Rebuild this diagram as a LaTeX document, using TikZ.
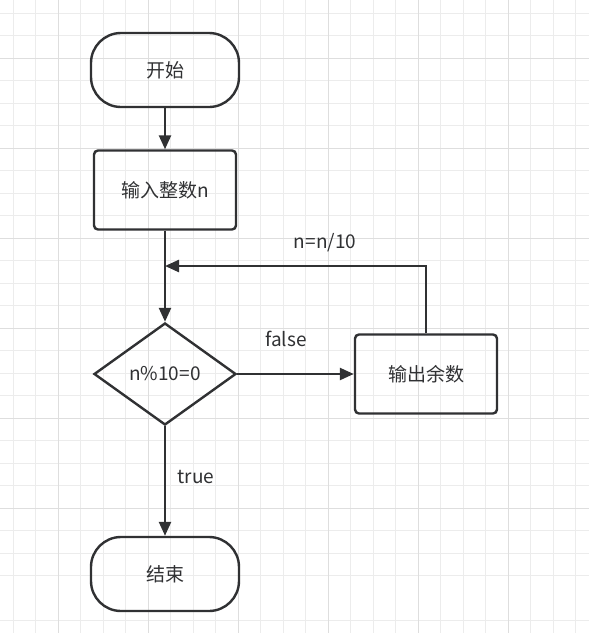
\documentclass[tikz,border=0pt]{standalone}
\usepackage{fontspec}
\setmainfont{Noto Sans CJK SC}
\usetikzlibrary{arrows.meta, shapes.geometric}
\definecolor{ink}{RGB}{48,49,51}
\definecolor{gridminor}{RGB}{236,236,236}
\definecolor{gridmajor}{RGB}{222,222,222}
\tikzset{
  terminal/.style={draw=ink, line width=2.4pt, rounded corners=30pt, minimum width=148pt, minimum height=74pt},
  process/.style={draw=ink, line width=2.4pt, rounded corners=4pt, minimum width=142pt, minimum height=79pt},
  decision/.style={draw=ink, line width=2.4pt, diamond, aspect=1.4, minimum width=142pt, minimum height=102pt},
  flow/.style={draw=ink, line width=2.4pt, -{Triangle[length=14pt,width=12pt]}},
  lbl/.style={text=ink}
}

\begin{document}
\begin{tikzpicture}[x=1pt, y=-1pt, font=\fontsize{19}{23}\selectfont]
  \useasboundingbox (0,0) rectangle (589,633);
  % grid paper
  \fill[white] (0,0) rectangle (589,633);
  \foreach \p in {13,35.5,...,589} {
    \draw[gridminor, line width=1pt] (\p,0) -- (\p,633);
    \draw[gridminor, line width=1pt] (0,\p) -- (589,\p);
  }
  \draw[gridminor, line width=1pt] (0,620.5) -- (589,620.5);
  \foreach \p in {58,148,...,589} {
    \draw[gridmajor, line width=1pt] (\p,0) -- (\p,633);
    \draw[gridmajor, line width=1pt] (0,\p) -- (589,\p);
  }

  % flow chart
  \node[terminal, lbl] (start) at (165,70) {开始};
  \node[process, lbl] (input) at (165,190) {输入整数n};
  \node[decision, lbl] (test) at (165,374) {n\%10=0};
  \node[process, lbl] (digit) at (426,374) {输出余数};
  \node[terminal, lbl] (stop) at (165,574) {结束};
  \coordinate (back) at (165,266);

  \draw[flow] (start) -- (input);
  \draw[flow] (input) -- (test);
  \draw[flow] (test) -- (digit);
  \draw[flow] (test) -- (stop);
  \draw[flow] (digit.north) |- (back);

  \node[lbl] (divide) at (325,243) {n=n/10};
  \node[lbl] (no) at (286,339) {false};
  \node[lbl] (yes) at (196,477) {true};
\end{tikzpicture}
\end{document}
